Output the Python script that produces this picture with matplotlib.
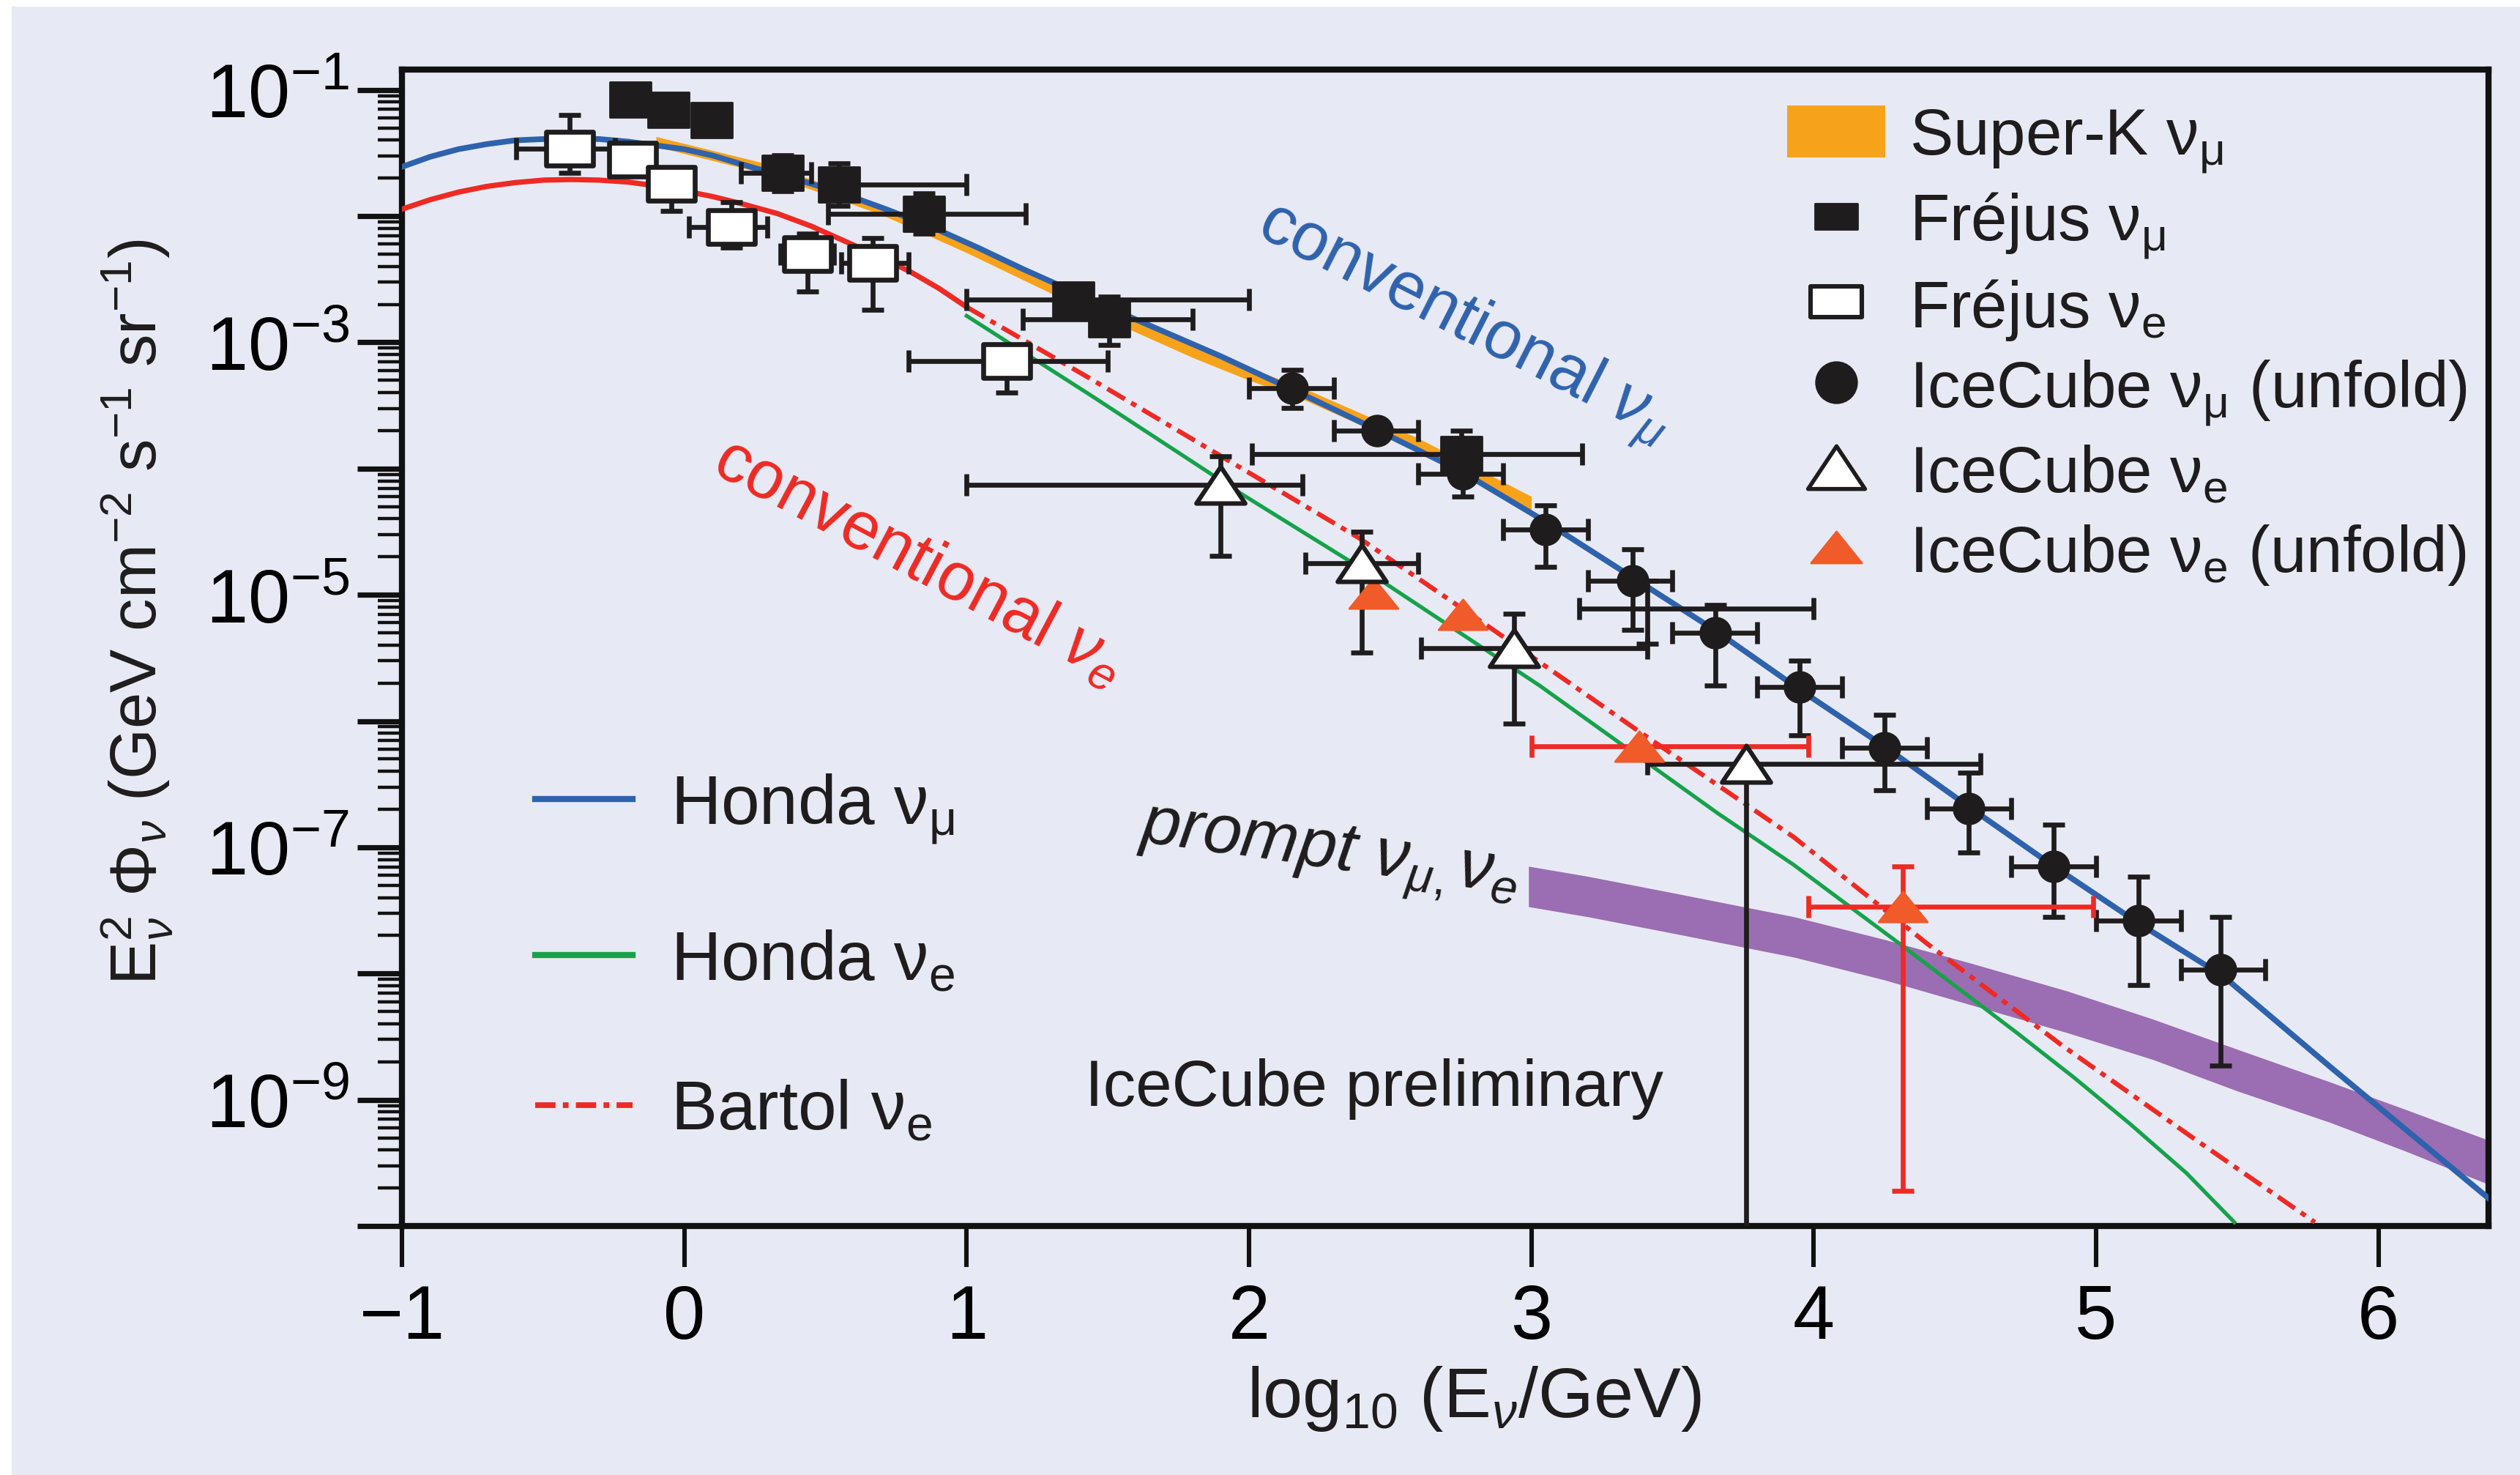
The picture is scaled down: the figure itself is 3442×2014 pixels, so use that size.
import numpy as np
import matplotlib
matplotlib.use('Agg')
import matplotlib.pyplot as plt
from matplotlib.path import Path
from matplotlib.patches import Rectangle, Patch
from matplotlib.lines import Line2D
from matplotlib.ticker import LogLocator, FuncFormatter, NullFormatter, FixedLocator

plt.rcParams['font.family'] = ['Liberation Sans', 'DejaVu Sans']
plt.rcParams['mathtext.fontset'] = 'custom'
plt.rcParams['mathtext.rm'] = 'Liberation Sans'
plt.rcParams['mathtext.it'] = 'Liberation Sans:italic'
plt.rcParams['mathtext.bf'] = 'Liberation Sans:bold'
plt.rcParams['mathtext.sf'] = 'Liberation Sans'
plt.rcParams['lines.scale_dashes'] = False

# all fluxes given as log10(E^2 Phi), energies as log10(E/GeV)
honda_mu_x = [-1.0, -0.9, -0.8, -0.7, -0.6, -0.5, -0.4, -0.3, -0.2, -0.1, 0.0, 0.1, 0.25, 0.4,
              0.56, 0.72, 0.88, 1.04, 1.2, 1.4, 1.6, 1.9, 2.15, 2.45, 2.75, 3.05, 3.35, 3.65,
              3.95, 4.25, 4.55, 4.85, 5.15, 5.45, 5.83, 6.39]
honda_mu_y = [-1.61, -1.53, -1.47, -1.43, -1.40, -1.39, -1.385, -1.39, -1.41, -1.44, -1.47,
              -1.52, -1.62, -1.71, -1.82, -1.95, -2.09, -2.25, -2.42, -2.62, -2.82, -3.11,
              -3.37, -3.69, -4.02, -4.42, -4.85, -5.28, -5.75, -6.20, -6.68, -7.15, -7.60,
              -8.02, -8.74, -9.78]

conv_e_x = [-1.0, -0.9, -0.8, -0.7, -0.6, -0.5, -0.4, -0.3, -0.2, -0.1, 0.0, 0.1, 0.2, 0.33,
            0.45, 0.56, 0.68, 0.80, 0.9, 1.0]
conv_e_y = [-1.945, -1.87, -1.81, -1.765, -1.735, -1.715, -1.71, -1.715, -1.73, -1.76, -1.80,
            -1.845, -1.90, -1.98, -2.08, -2.19, -2.31, -2.44, -2.57, -2.72]

honda_e_x = [1.0, 1.44, 1.98, 2.47, 3.03, 3.66, 3.93, 4.32, 4.72, 4.92, 5.12, 5.32, 5.49]
honda_e_y = [-2.79, -3.42, -4.21, -4.89, -5.72, -6.73, -7.14, -7.79, -8.47, -8.82, -9.19,
             -9.58, -9.97]

bartol_e_x = [1.0, 1.44, 1.915, 2.39, 2.867, 3.38, 3.93, 4.40, 4.88, 5.355, 5.775]
bartol_e_y = [-2.72, -3.29, -3.92, -4.55, -5.28, -6.08, -6.92, -7.76, -8.57, -9.32, -9.97]

superk_x = [-0.1, 0.3, 0.7, 1.0, 1.4, 1.6, 1.8, 2.0, 2.2, 2.6, 3.0]
superk_lo = [-1.45, -1.67, -1.99, -2.29, -2.72, -2.92, -3.12, -3.30, -3.46, -3.86, -4.33]
superk_hi = [-1.37, -1.59, -1.91, -2.20, -2.62, -2.82, -3.02, -3.20, -3.37, -3.76, -4.22]

prompt_x = [2.99, 3.2, 3.5, 3.93, 4.25, 4.56, 4.9, 5.2, 5.5, 5.83, 6.1, 6.39]
prompt_hi = [-7.15, -7.23, -7.36, -7.55, -7.73, -7.92, -8.14, -8.36, -8.60, -8.86, -9.08, -9.32]
prompt_lo = [-7.47, -7.55, -7.68, -7.87, -8.05, -8.25, -8.47, -8.68, -8.93, -9.18, -9.41, -9.67]

frejus_mu_x = [-0.19, -0.057, 0.096, 0.348, 0.547, 0.848, 1.377, 1.504, 2.753]
frejus_mu_y = [-1.075, -1.16, -1.24, -1.66, -1.75, -1.98, -2.66, -2.82, -3.885]
frejus_mu_xlo = [-0.22, -0.09, 0.06, 0.20, 0.51, 0.51, 1.00, 1.20, 2.01]
frejus_mu_xhi = [-0.16, -0.02, 0.13, 0.45, 1.00, 1.21, 2.00, 1.80, 3.18]
frejus_mu_ylo = [-1.19, -1.27, -1.35, -1.80, -1.92, -2.14, -2.78, -3.02, -4.08]
frejus_mu_yhi = [-0.96, -1.05, -1.13, -1.52, -1.58, -1.82, -2.54, -2.64, -3.70]
# highest Fréjus bin, marker hidden under the IceCube points
frejus_top_x = [3.41]
frejus_top_y = [-5.11]
frejus_top_xlo = [3.17]
frejus_top_xhi = [4.00]
frejus_top_ylo = [-5.39]
frejus_top_yhi = [-4.89]

frejus_e_x = [-0.405, -0.182, -0.047, 0.168, 0.437, 0.667, 1.143]
frejus_e_y = [-1.465, -1.554, -1.747, -2.085, -2.30, -2.37, -3.15]
frejus_e_xlo = [-0.596, -0.21, -0.07, 0.016, 0.34, 0.556, 0.794]
frejus_e_xhi = [-0.246, -0.15, -0.02, 0.293, 0.53, 0.794, 1.50]
frejus_e_ylo = [-1.66, -1.60, -1.96, -2.25, -2.60, -2.74, -3.40]
frejus_e_yhi = [-1.20, -1.50, -1.625, -1.89, -2.14, -2.175, -3.03]

ic_mu_x = [2.153, 2.455, 2.756, 3.049, 3.36, 3.653, 3.95, 4.25, 4.55, 4.85, 5.15, 5.44]
ic_mu_y = [-3.36, -3.70, -4.04, -4.48, -4.89, -5.30, -5.73, -6.21, -6.69, -7.15, -7.58, -7.97]
ic_mu_xlo = [2.00, 2.30, 2.60, 2.90, 3.20, 3.50, 3.80, 4.10, 4.40, 4.70, 5.00, 5.30]
ic_mu_xhi = [2.30, 2.60, 2.90, 3.20, 3.50, 3.80, 4.10, 4.40, 4.70, 5.00, 5.30, 5.60]
ic_mu_ylo = [-3.52, -3.76, -4.22, -4.78, -5.28, -5.72, -6.11, -6.55, -7.04, -7.55, -8.09, -8.73]
ic_mu_yhi = [-3.22, -3.64, -3.86, -4.29, -4.64, -5.08, -5.52, -5.95, -6.41, -6.82, -7.23, -7.55]

ic_e_x = [1.90, 2.40, 2.94, 3.76]
ic_e_y = [-4.13, -4.75, -5.42, -6.34]
ic_e_xlo = [1.00, 2.20, 2.61, 3.41]
ic_e_xhi = [2.19, 2.60, 3.41, 4.59]
ic_e_ylo = [-4.69, -5.46, -6.02, -12.0]
ic_e_yhi = [-3.90, -4.50, -5.15, -6.34]

ic_eu_x = [2.44, 2.756, 3.383, 4.316]
ic_eu_y = [-4.99, -5.155, -6.197, -7.47]
ic_eu_xlo = [2.44, 2.756, 3.00, 3.98]
ic_eu_xhi = [2.44, 2.756, 3.98, 4.99]
ic_eu_ylo = [-4.99, -5.155, -6.197, -9.72]
ic_eu_yhi = [-4.99, -5.155, -6.197, -7.15]

legend_top = ['Super-K $\\mathrm{\\nu}_{\\mathrm{\\mu}}$',
              'Fréjus $\\mathrm{\\nu}_{\\mathrm{\\mu}}$',
              'Fréjus $\\mathrm{\\nu}_{\\mathrm{e}}$',
              'IceCube $\\mathrm{\\nu}_{\\mathrm{\\mu}}$ (unfold)',
              'IceCube $\\mathrm{\\nu}_{\\mathrm{e}}$',
              'IceCube $\\mathrm{\\nu}_{\\mathrm{e}}$ (unfold)']
legend_models = ['Honda $\\mathrm{\\nu}_{\\mathrm{\\mu}}$',
                 'Honda $\\mathrm{\\nu}_{\\mathrm{e}}$',
                 'Bartol $\\mathrm{\\nu}_{\\mathrm{e}}$']

bg = '#e7eaf4'
c_blue = '#2f62ad'
c_green = '#16a24a'
c_red = '#ee2a24'
c_orange = '#f7a21b'
c_purple = '#9b6db2'
c_tri = '#f15a29'
c_black = '#1f1c1d'

rect_mk = Path([(-1, -0.85), (1, -0.85), (1, 0.85), (-1, 0.85), (-1, -0.85)], closed=True)
rect_open_mk = Path([(-1, -0.72), (1, -0.72), (1, 0.72), (-1, 0.72), (-1, -0.72)], closed=True)
rect_leg_mk = Path([(-1, -0.6), (1, -0.6), (1, 0.6), (-1, 0.6), (-1, -0.6)], closed=True)
tri_mk = Path([(0, 0.75), (-1, -0.75), (1, -0.75), (0, 0.75)], closed=True)
tri_flat_mk = Path([(0, 0.62), (-1, -0.62), (1, -0.62), (0, 0.62)], closed=True)


def lin(v):
    return 10.0 ** np.asarray(v, dtype=float)


def error_bars(ax, x, y, xlo, xhi, ylo, yhi, color, z):
    x, y = np.asarray(x, float), np.asarray(y, float)
    xlo, xhi = np.asarray(xlo, float), np.asarray(xhi, float)
    ylo, yhi = np.asarray(ylo, float), np.asarray(yhi, float)
    kw = dict(fmt='none', ecolor=color, elinewidth=2.4, capsize=5.5, capthick=2.4, zorder=z)
    m = xhi > xlo
    if m.any():
        ax.errorbar(x[m], lin(y[m]), xerr=[x[m] - xlo[m], xhi[m] - x[m]], **kw)
    m = yhi > ylo
    if m.any():
        ax.errorbar(x[m], lin(y[m]), yerr=[lin(y[m]) - lin(ylo[m]), lin(yhi[m]) - lin(y[m])], **kw)


fig = plt.figure(figsize=(17.21, 10.075), dpi=200)
fig.patch.set_facecolor('white')
fig.add_artist(Rectangle((16 / 3442, 0), 1, 1 - 10 / 2015, transform=fig.transFigure,
                         facecolor=bg, edgecolor='none', zorder=-10))
ax = fig.add_axes([0.1595, 0.1687, 0.8280, 0.7836])
ax.set_facecolor(bg)
ax.set_yscale('log')
ax.set_xlim(-1, 6.39)
ax.set_ylim(1e-10, 10 ** -0.84)

# model bands and curves
ax.fill_between(prompt_x, lin(prompt_lo), lin(prompt_hi), color=c_purple, lw=0, zorder=1)
ax.fill_between(superk_x, lin(superk_lo), lin(superk_hi), color=c_orange, lw=0, zorder=2)
ax.plot(honda_mu_x, lin(honda_mu_y), color=c_blue, lw=2.8, zorder=3)
ax.plot(conv_e_x, lin(conv_e_y), color=c_red, lw=2.6, zorder=3)
ax.plot(honda_e_x, lin(honda_e_y), color=c_green, lw=1.9, zorder=3)
bartol, = ax.plot(bartol_e_x, lin(bartol_e_y), color=c_red, lw=2.3, zorder=3)
bartol.set_dashes([10, 3.6, 2.8, 3.6])

# measurements
error_bars(ax, frejus_mu_x, frejus_mu_y, frejus_mu_xlo, frejus_mu_xhi, frejus_mu_ylo, frejus_mu_yhi, c_black, 4)
error_bars(ax, frejus_top_x, frejus_top_y, frejus_top_xlo, frejus_top_xhi, frejus_top_ylo, frejus_top_yhi, c_black, 4)
error_bars(ax, frejus_e_x, frejus_e_y, frejus_e_xlo, frejus_e_xhi, frejus_e_ylo, frejus_e_yhi, c_black, 4)
error_bars(ax, ic_mu_x, ic_mu_y, ic_mu_xlo, ic_mu_xhi, ic_mu_ylo, ic_mu_yhi, c_black, 4)
error_bars(ax, ic_e_x, ic_e_y, ic_e_xlo, ic_e_xhi, ic_e_ylo, ic_e_yhi, c_black, 4)
error_bars(ax, ic_eu_x, ic_eu_y, ic_eu_xlo, ic_eu_xhi, ic_eu_ylo, ic_eu_yhi, c_red, 4)

ax.plot(frejus_e_x, lin(frejus_e_y), ls='none', marker=rect_open_mk, ms=23, mfc='white',
        mec=c_black, mew=2.4, zorder=5)
ax.plot(frejus_mu_x, lin(frejus_mu_y), ls='none', marker=rect_mk, ms=20, mfc=c_black,
        mec=c_black, zorder=5)
ax.plot(ic_mu_x, lin(ic_mu_y), ls='none', marker='o', ms=15, mfc=c_black, mec=c_black, zorder=6)
ax.plot(ic_eu_x, lin(ic_eu_y), ls='none', marker=tri_flat_mk, ms=24, mfc=c_tri, mec=c_tri, zorder=6)
ax.plot(ic_e_x, lin(ic_e_y), ls='none', marker=tri_mk, ms=24, mfc='white', mec=c_black,
        mew=2.2, zorder=7)

# axes styling
for s in ax.spines.values():
    s.set_linewidth(3)
    s.set_color('#111111')
ax.xaxis.set_major_locator(FixedLocator(range(-1, 7)))
ax.yaxis.set_major_locator(LogLocator(base=10, numticks=20))
ax.yaxis.set_minor_locator(LogLocator(base=10, subs=np.arange(2, 10), numticks=20))
ax.yaxis.set_minor_formatter(NullFormatter())


def ylab(v, pos):
    e = int(round(np.log10(v)))
    return r'$10^{%d}$' % e if e % 2 else ''


ax.yaxis.set_major_formatter(FuncFormatter(ylab))
ax.tick_params(axis='y', which='major', direction='out', length=22, width=2.6, pad=4,
               labelsize=37, color='#111111')
ax.tick_params(axis='y', which='minor', direction='out', length=12, width=1.6, color='#111111')
ax.tick_params(axis='x', which='major', direction='out', length=20, width=2.2, pad=8,
               labelsize=37, color='#111111')

fig.text(187 / 3442, 1 - 836 / 2015,
         r'E$^{2}_{\nu}$ $\Phi_{\nu}$ (GeV cm$^{-2}$ s$^{-1}$ sr$^{-1}$)',
         rotation=90, ha='center', va='center', fontsize=32, color=c_black)
fig.text(2013 / 3442, 1 - 1910 / 2015, r'log$_{10}$ (E$_{\nu}$/GeV)',
         ha='center', va='center', fontsize=35, color=c_black)

# annotations
ax.text(2.018, 10 ** -2.139, r'conventional $\nu_{\mu}$', color=c_blue, fontsize=33,
        rotation=-27, rotation_mode='anchor', ha='left', va='baseline')
ax.text(0.088, 10 ** -4.02, r'conventional $\nu_{e}$', color=c_red, fontsize=33,
        rotation=-28, rotation_mode='anchor', ha='left', va='baseline')
ax.text(1.605, 10 ** -6.94, r'prompt $\nu_{\mu,}\nu_{e}$', color=c_black, fontsize=34,
        style='italic', rotation=-8, rotation_mode='anchor', ha='left', va='baseline')
ax.text(1.418, 10 ** -8.91, 'IceCube preliminary', color=c_black, fontsize=32,
        ha='left', va='center')

# legends
h_top = [Patch(facecolor=c_orange, edgecolor='none'),
         Line2D([], [], ls='none', marker=rect_leg_mk, ms=21, mfc=c_black, mec=c_black),
         Line2D([], [], ls='none', marker=rect_leg_mk, ms=25, mfc='white', mec=c_black, mew=2.2),
         Line2D([], [], ls='none', marker='o', ms=20, mfc=c_black, mec=c_black),
         Line2D([], [], ls='none', marker=tri_mk, ms=28, mfc='white', mec=c_black, mew=2.0),
         Line2D([], [], ls='none', marker=tri_flat_mk, ms=25, mfc=c_tri, mec=c_tri)]
leg1 = ax.legend(h_top, legend_top, loc='upper left', bbox_to_anchor=(0.664, 0.969),
                 frameon=False, fontsize=32, handlelength=1.5, handleheight=0.85,
                 handletextpad=0.38, labelspacing=0.25, borderpad=0, borderaxespad=0)
for t in leg1.get_texts():
    t.set_color(c_black)
ax.add_artist(leg1)

bartol_h = Line2D([], [], color=c_red, lw=2.8)
bartol_h.set_dashes([10, 3.6, 2.8, 3.6])
h_models = [Line2D([], [], color=c_blue, lw=3.0),
            Line2D([], [], color=c_green, lw=3.0),
            bartol_h]
leg2 = ax.legend(h_models, legend_models, loc='upper left', bbox_to_anchor=(0.064, 0.393),
                 frameon=False, fontsize=34, handlelength=1.4, handletextpad=0.55,
                 labelspacing=1.22, borderpad=0, borderaxespad=0)
for t in leg2.get_texts():
    t.set_color(c_black)

fig.savefig('out.png', dpi=200, facecolor=fig.get_facecolor())
